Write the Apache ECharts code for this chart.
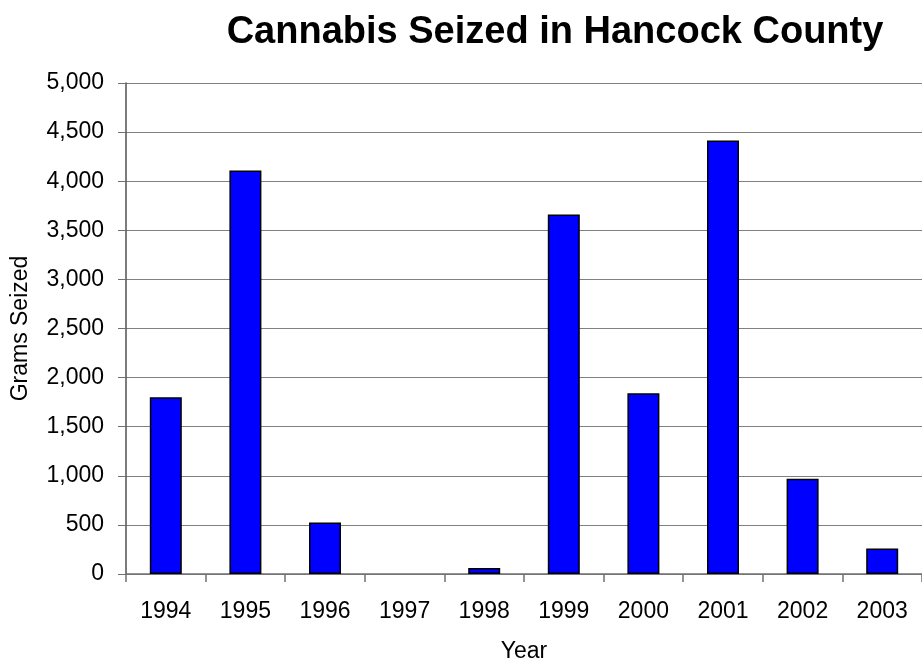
<!DOCTYPE html>
<html>
<head>
<meta charset="utf-8">
<title>Cannabis Seized in Hancock County</title>
<script src="https://cdn.jsdelivr.net/npm/echarts@6/dist/echarts.min.js"></script>
<style>
  html, body { margin: 0; padding: 0; background: #ffffff; }
  #chart { width: 922px; height: 668px; }
</style>
</head>
<body>
<div id="chart"></div>
<script>
// Grams of cannabis seized per year
const years = ['1994', '1995', '1996', '1997', '1998', '1999', '2000', '2001', '2002', '2003'];
const gramsSeized = [1800, 4110, 525, 0, 60, 3660, 1840, 4415, 970, 260];

const axisFont = 'Liberation Sans, Arial, Helvetica, sans-serif';

// A zero-height bar gets no outline, so empty years stay blank
const barData = gramsSeized.map(v => (v === 0 ? { value: v, itemStyle: { borderWidth: 0 } } : v));

const chart = echarts.init(document.getElementById('chart'), null, { renderer: 'canvas' });

chart.setOption({
  backgroundColor: '#ffffff',
  animation: false,
  title: {
    text: 'Cannabis Seized in Hancock County',
    left: 550,
    top: 9,
    textAlign: 'center',
    textStyle: {
      fontFamily: axisFont,
      fontSize: 38,
      fontWeight: 'bold',
      color: '#000000'
    }
  },
  grid: {
    left: 126,
    top: 83,
    width: 800,
    height: 494,
    containLabel: false
  },
  xAxis: {
    type: 'category',
    data: years,
    name: 'Year',
    nameLocation: 'middle',
    nameGap: 66,
    nameTextStyle: { fontFamily: axisFont, fontSize: 23, color: '#000000' },
    axisLine: { lineStyle: { color: '#707070', width: 1.5 } },
    axisTick: { show: true, length: 8, alignWithLabel: false, lineStyle: { color: '#707070', width: 1.5 } },
    axisLabel: { fontFamily: axisFont, fontSize: 23, color: '#000000', margin: 26 },
    splitLine: { show: false }
  },
  yAxis: {
    type: 'value',
    min: 0,
    max: 5000,
    interval: 500,
    name: 'Grams Seized',
    nameLocation: 'middle',
    nameGap: 94,
    nameTextStyle: { fontFamily: axisFont, fontSize: 23, color: '#000000' },
    axisLine: { show: true, lineStyle: { color: '#505050', width: 1.5 } },
    axisTick: { show: true, inside: false, length: 8, lineStyle: { color: '#707070', width: 1 } },
    axisLabel: {
      fontFamily: axisFont,
      fontSize: 23,
      color: '#000000',
      margin: 22,
      formatter: v => v.toLocaleString('en-US')
    },
    splitLine: { show: true, lineStyle: { color: '#808080', width: 1 } }
  },
  series: [{
    type: 'bar',
    data: barData,
    barWidth: 32,
    itemStyle: {
      color: '#0000ff',
      borderColor: '#000000',
      borderWidth: 1.5
    }
  }]
});
</script>
</body>
</html>
